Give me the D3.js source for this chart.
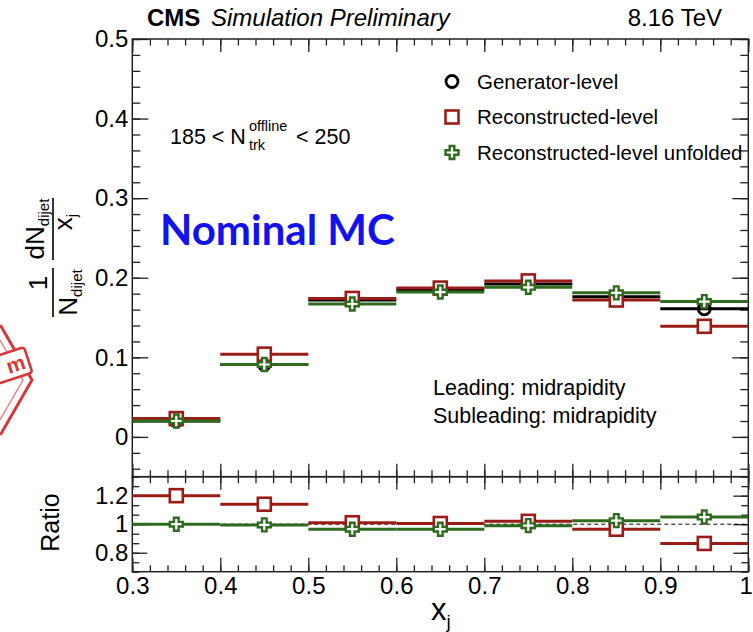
<!DOCTYPE html>
<html>
<head>
<meta charset="utf-8">
<script src="https://cdn.jsdelivr.net/npm/d3@7"></script>
<style>
  body { margin: 0; background: #fff; }
  svg { display: block; font-family: "Liberation Sans", Arial, sans-serif; }
  .tick text { font-size: 24px; fill: #000; }
  .tick line { stroke: #222; stroke-width: 1.3; }
</style>
</head>
<body>
<svg id="chart" width="753" height="632"></svg>
<script>
// x_j bin edges
const binEdges = [0.3, 0.4, 0.5, 0.6, 0.7, 0.8, 0.9, 1.0]

// 1/N dN/dx_j per bin
const genLevel = [0.020, 0.091, 0.172, 0.185, 0.192, 0.176, 0.161]
const recoLevel = [0.023, 0.104, 0.174, 0.187, 0.196, 0.172, 0.139]
const recoUnfolded = [0.020, 0.091, 0.167, 0.182, 0.188, 0.181, 0.170]

// ratios to generator level
const recoRatio = [1.20, 1.14, 1.01, 1.005, 1.02, 0.965, 0.865]
const unfoldedRatio = [1.00, 0.995, 0.965, 0.965, 0.99, 1.025, 1.05]

const xTicks = [0.3, 0.4, 0.5, 0.6, 0.7, 0.8, 0.9, 1.0]
const yTicks = [0, 0.1, 0.2, 0.3, 0.4, 0.5]
const ratioTicks = [0.8, 1.0, 1.2]

const legendLabels = ["Generator-level", "Reconstructed-level", "Reconstructed-level unfolded"]

const colors = { gen: "#000000", reco: "#9a1c16", unf: "#2f6b1f" }

const svg = d3.select("#chart")

const x = d3.scaleLinear().domain([0.3, 1.0]).range([132.3, 748.3])
const yTop = d3.scaleLinear().domain([-0.05, 0.5]).range([476.7, 39])
const yRat = d3.scaleLinear().domain([0.667, 1.333]).range([571.7, 476.7])

const fmt = d => d3.format("~g")(d)

function minorVals(lo, hi, step) {
    const out = []
    const n = Math.round((hi - lo) / step)
    for (let i = 0; i <= n; i++) out.push(+(lo + i * step).toFixed(4))
    return out
}

function axis(make, scale, pos, major, minor, bigLen, smallLen, labels, pad) {
    const g = svg.append("g").attr("transform", pos)
    g.call(make(scale).tickValues(minor).tickSize(-smallLen).tickFormat(""))
    const g2 = svg.append("g").attr("transform", pos)
    g2.call(make(scale).tickValues(major).tickSize(-bigLen).tickPadding(pad || 5)
        .tickFormat(labels ? fmt : ""))
    g.select(".domain").remove()
    g2.select(".domain").remove()
    return g2
}

const xMinor = minorVals(0.3, 1.0, 0.02)

// ---- top panel axes
axis(d3.axisBottom, x, "translate(0,476.7)", xTicks, xMinor, 13, 6.5, false)
axis(d3.axisTop, x, "translate(0,39)", xTicks, xMinor, 13, 6.5, false)
axis(d3.axisLeft, yTop, "translate(132.3,0)", yTicks, minorVals(-0.04, 0.5, 0.02), 16, 8, true, 4)
axis(d3.axisRight, yTop, "translate(748.3,0)", yTicks, minorVals(-0.04, 0.5, 0.02), 16, 8, false)

// ---- ratio panel axes
const xBottom = axis(d3.axisBottom, x, "translate(0,571.7)", xTicks, xMinor, 14, 6.5, true, 5)
// last label sits on the page edge, keep it inside
xBottom.selectAll(".tick text").filter(d => d === 1).attr("text-anchor", "end").attr("dx", 4)
axis(d3.axisTop, x, "translate(0,476.7)", xTicks, xMinor, 13, 6.5, false)
const ratioMinor = minorVals(0.6667, 1.3333, 0.2 / 3)
axis(d3.axisLeft, yRat, "translate(132.3,0)", ratioTicks, ratioMinor, 15, 7, true, 4)
axis(d3.axisRight, yRat, "translate(748.3,0)", ratioTicks, ratioMinor, 15, 7, false)

// frames
svg.append("rect").attr("x", x(0.3)).attr("y", yTop(0.5))
    .attr("width", x(1) - x(0.3)).attr("height", yTop(-0.05) - yTop(0.5))
    .attr("fill", "none").attr("stroke", "#222").attr("stroke-width", 1.5)
svg.append("rect").attr("x", x(0.3)).attr("y", yRat(1.333))
    .attr("width", x(1) - x(0.3)).attr("height", yRat(0.667) - yRat(1.333))
    .attr("fill", "none").attr("stroke", "#222").attr("stroke-width", 1.5)

// dashed unity line
svg.append("line").attr("x1", x(0.3)).attr("x2", x(1)).attr("y1", yRat(1)).attr("y2", yRat(1))
    .attr("stroke", "#000").attr("stroke-width", 1).attr("stroke-dasharray", "4,3")

// markers
const crossPath = (() => {
    const s = 6.5, a = 2.3
    return `M${-a},${-s}L${a},${-s}L${a},${-a}L${s},${-a}L${s},${a}L${a},${a}L${a},${s}L${-a},${s}L${-a},${a}L${-s},${a}L${-s},${-a}L${-a},${-a}Z`
})()

function marker(g, type, color, cx, cy) {
    if (type === "circle") {
        g.append("circle").attr("cx", cx).attr("cy", cy).attr("r", 6)
            .attr("fill", "none").attr("stroke", color).attr("stroke-width", 2.8)
    } else if (type === "square") {
        g.append("rect").attr("x", cx - 6.5).attr("y", cy - 6.5).attr("width", 13).attr("height", 13)
            .attr("fill", "#fff").attr("stroke", color).attr("stroke-width", 2.6)
    } else {
        g.append("path").attr("d", crossPath).attr("transform", `translate(${cx},${cy})`)
            .attr("fill", "#fff").attr("stroke", color).attr("stroke-width", 2.4)
    }
}

function series(values, yScale, type, color) {
    const g = svg.append("g")
    values.forEach((v, i) => {
        const x0 = x(binEdges[i]), x1 = x(binEdges[i + 1])
        g.append("line").attr("x1", x0).attr("x2", x1).attr("y1", yScale(v)).attr("y2", yScale(v))
            .attr("stroke", color).attr("stroke-width", 3)
    })
    values.forEach((v, i) => {
        marker(g, type, color, x((binEdges[i] + binEdges[i + 1]) / 2), yScale(v))
    })
}

series(genLevel, yTop, "circle", colors.gen)
series(recoLevel, yTop, "square", colors.reco)
series(recoUnfolded, yTop, "cross", colors.unf)

series(recoRatio, yRat, "square", colors.reco)
series(unfoldedRatio, yRat, "cross", colors.unf)

// legend
const legendTypes = [["circle", colors.gen], ["square", colors.reco], ["cross", colors.unf]]
const lg = svg.append("g")
legendLabels.forEach((lab, i) => {
    const cy = 81.5 + i * 35.5
    marker(lg, legendTypes[i][0], legendTypes[i][1], 452, cy)
    lg.append("text").attr("x", 477).attr("y", cy + 7).attr("font-size", 20.5).text(lab)
})

// header
svg.append("text").attr("x", 147).attr("y", 26).attr("font-size", 24).attr("font-weight", "bold").text("CMS")
svg.append("text").attr("x", 211).attr("y", 26).attr("font-size", 24).attr("font-style", "italic").text("Simulation Preliminary")
svg.append("text").attr("x", 722).attr("y", 26).attr("font-size", 24).attr("text-anchor", "end").text("8.16 TeV")

// multiplicity selection
const sel = svg.append("text").attr("x", 170).attr("y", 144).attr("font-size", 21.5)
sel.append("tspan").text("185 < N")
sel.append("tspan").attr("x", 249).attr("y", 131).attr("font-size", 14.5).text("offline")
sel.append("tspan").attr("x", 249).attr("y", 150).attr("font-size", 14.5).text("trk")
sel.append("tspan").attr("x", 296).attr("y", 144).text("< 250")

svg.append("text").attr("x", 433).attr("y", 395).attr("font-size", 21.5).text("Leading: midrapidity")
svg.append("text").attr("x", 433).attr("y", 423).attr("font-size", 21.5).text("Subleading: midrapidity")

svg.append("text").attr("x", 160).attr("y", 245).attr("font-family", "Lato, sans-serif")
    .attr("font-weight", "bold").attr("font-size", 42).attr("fill", "#1212ee").text("Nominal MC")

// y title (rotated fraction)
const yt = svg.append("g").attr("transform", "translate(53,258) rotate(-90)").attr("font-size", 26)
yt.append("text").attr("x", -25).attr("y", -6).attr("text-anchor", "middle").text("1")
yt.append("line").attr("x1", -59).attr("x2", -10).attr("stroke", "#000").attr("stroke-width", 1.6)
const dn = yt.append("text").attr("x", -34.5).attr("y", 24).attr("text-anchor", "middle")
dn.append("tspan").text("N")
dn.append("tspan").attr("font-size", 15).attr("dy", 5).text("dijet")
const nu = yt.append("text").attr("x", 29).attr("y", -9.5).attr("text-anchor", "middle")
nu.append("tspan").text("dN")
nu.append("tspan").attr("font-size", 15).attr("dy", 5).text("dijet")
yt.append("line").attr("x1", -2).attr("x2", 60).attr("stroke", "#000").attr("stroke-width", 1.6)
const de = yt.append("text").attr("x", 36).attr("y", 18.5).attr("text-anchor", "middle")
de.append("tspan").text("x")
de.append("tspan").attr("font-size", 15).attr("dy", 5).text("j")

// ratio title
svg.append("text").attr("transform", "translate(59,522.5) rotate(-90)").attr("text-anchor", "middle")
    .attr("font-size", 25).text("Ratio")

// x title
const xt = svg.append("text").attr("x", 431).attr("y", 620).attr("font-size", 31)
xt.append("tspan").text("x")
xt.append("tspan").attr("font-size", 19).attr("dy", 8).text("j")

// partial stamp on the left edge
const st = svg.append("g").attr("transform", "translate(-30,380)").attr("stroke", "#d8373a").attr("fill", "none")
const hex = r => d3.range(6).map(k => [r * Math.cos(k * Math.PI / 3), r * Math.sin(k * Math.PI / 3)].join(",")).join(" ")
st.append("polygon").attr("points", hex(62)).attr("stroke-width", 3)
st.append("polygon").attr("points", hex(53)).attr("stroke-width", 1.5).attr("opacity", 0.6)
const ban = svg.append("g").attr("transform", "translate(24,347) rotate(-18)")
ban.append("rect").attr("x", -80).attr("y", 0).attr("width", 80).attr("height", 27).attr("rx", 3)
    .attr("fill", "#fff").attr("stroke", "#d8373a").attr("stroke-width", 2.6)
ban.append("text").attr("x", -4).attr("y", 21).attr("text-anchor", "end").attr("font-size", 21)
    .attr("font-weight", "bold").attr("fill", "#d8373a").text("m")
</script>
</body>
</html>
